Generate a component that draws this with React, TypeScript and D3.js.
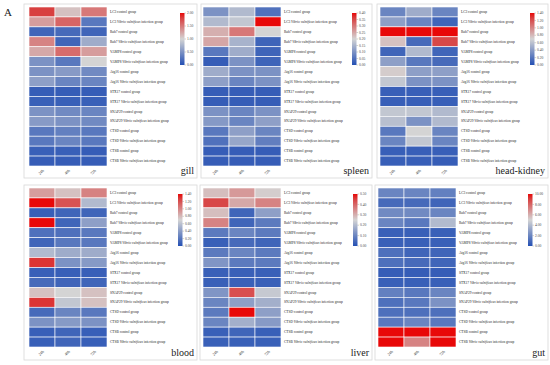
import React from "react";
import * as d3 from "d3";

// rows of every heatmap (gene + group)
const genes = ["LC3", "Rab7", "VAMP8", "Atg16", "STX17", "SNAP29", "CTSD", "CTSB"];
const groups = ["control", "infection"];
const times = ["24h", "48h", "72h"];

// relative expression, one row per gene/group, columns 24h 48h 72h
const gill = [
  [1.80, 1.10, 1.50], [1.30, 1.60, 0.30], [0.16, 0.20, 0.16], [1.44, 0.16, 0.70],
  [1.24, 1.56, 1.30], [0.50, 0.30, 1.00], [0.50, 0.56, 0.44], [0.60, 0.40, 0.40],
  [0.10, 0.10, 0.10], [0.12, 0.12, 0.12], [0.50, 0.44, 0.40], [0.56, 0.50, 0.44],
  [0.30, 0.36, 0.30], [0.30, 0.40, 0.30], [0.12, 0.12, 0.10], [0.10, 0.10, 0.10],
];
const spleen = [
  [0.10, 0.16, 0.05], [0.16, 0.18, 0.40], [0.24, 0.30, 0.20], [0.25, 0.15, 0.03],
  [0.06, 0.14, 0.03], [0.02, 0.10, 0.03], [0.14, 0.10, 0.10], [0.12, 0.08, 0.10],
  [0.02, 0.02, 0.02], [0.02, 0.02, 0.02], [0.10, 0.08, 0.10], [0.11, 0.08, 0.12],
  [0.06, 0.12, 0.08], [0.05, 0.13, 0.07], [0.02, 0.02, 0.02], [0.02, 0.02, 0.02],
];
const headKidney = [
  [0.28, 0.49, 0.28], [0.42, 0.28, 0.11], [1.40, 1.40, 1.40], [0.77, 0.14, 1.23],
  [0.11, 0.56, 0.11], [0.42, 0.21, 0.14], [0.73, 0.42, 0.42], [0.63, 0.35, 0.35],
  [0.08, 0.08, 0.08], [0.08, 0.08, 0.08], [0.63, 0.63, 0.56], [0.59, 0.35, 0.56],
  [0.21, 0.70, 0.28], [0.28, 0.63, 0.28], [0.08, 0.08, 0.08], [0.08, 0.08, 0.07],
];
const blood = [
  [0.91, 0.77, 1.01], [1.40, 1.19, 0.56], [0.08, 0.11, 0.11], [1.40, 0.11, 0.42],
  [0.17, 0.17, 0.21], [0.11, 0.21, 0.21], [0.56, 0.49, 0.49], [1.29, 0.35, 0.39],
  [0.08, 0.08, 0.08], [0.14, 0.11, 0.11], [0.77, 0.70, 0.77], [1.29, 0.63, 0.77],
  [0.14, 0.28, 0.21], [0.35, 0.39, 0.35], [0.08, 0.11, 0.08], [0.08, 0.11, 0.08],
];
const liver = [
  [0.28, 0.33, 0.26], [0.44, 0.31, 0.36], [0.28, 0.04, 0.15], [0.36, 0.04, 0.08],
  [0.08, 0.10, 0.08], [0.03, 0.05, 0.04], [0.08, 0.10, 0.08], [0.13, 0.08, 0.08],
  [0.03, 0.03, 0.03], [0.03, 0.03, 0.03], [0.13, 0.43, 0.23], [0.10, 0.15, 0.18],
  [0.08, 0.50, 0.15], [0.10, 0.18, 0.14], [0.03, 0.04, 0.03], [0.03, 0.03, 0.03],
];
const gut = [
  [2.0, 2.0, 1.8], [1.0, 1.0, 0.8], [2.2, 2.2, 2.0], [2.0, 1.5, 4.0],
  [0.6, 0.6, 0.6], [0.6, 0.6, 0.6], [1.2, 0.8, 0.8], [1.2, 1.0, 0.8],
  [0.5, 0.5, 0.5], [0.6, 0.6, 0.6], [1.8, 1.5, 2.0], [1.2, 1.5, 2.5],
  [1.2, 1.2, 1.2], [1.5, 2.0, 1.5], [10, 10, 10], [10, 7.2, 10],
];

// legend tick labels
const gillTicks = [0, 0.5, 1, 1.5, 2];
const spleenTicks = [0, 0.05, 0.1, 0.15, 0.2, 0.25, 0.3, 0.35, 0.4];
const hkTicks = [0, 0.2, 0.4, 0.6, 0.8, 1, 1.2, 1.4];
const bloodTicks = [0, 0.2, 0.4, 0.6, 0.8, 1, 1.2, 1.4];
const liverTicks = [0, 0.1, 0.2, 0.3, 0.4, 0.5];
const gutTicks = [0, 2, 4, 6, 8, 10];

const rowKeys = genes.flatMap(g => groups.map(gr => g + "-" + gr));

const panels = [
  { name: "gill", data: gill, ticks: gillTicks, box: [24, 4, 173, 174], hx: 29, lx: 180 },
  { name: "spleen", data: spleen, ticks: spleenTicks, box: [201, 4, 171, 174], hx: 203, lx: 352 },
  { name: "head-kidney", data: headKidney, ticks: hkTicks, box: [377, 4, 171, 174], hx: 380, lx: 530 },
  { name: "blood", data: blood, ticks: bloodTicks, box: [24, 185, 173, 175], hx: 29, lx: 178 },
  { name: "liver", data: liver, ticks: liverTicks, box: [200, 185, 172, 175], hx: 203, lx: 353 },
  { name: "gut", data: gut, ticks: gutTicks, box: [375, 185, 173, 175], hx: 378, lx: 528 },
];

const serif = "'Liberation Serif', 'DejaVu Serif', serif";

// normalized colour ramp: blue -> light gray -> red
const ramp = d3.scaleLinear<string>()
  .domain([0, 0.5, 0.9, 1])
  .range(["#2450b4", "#d4d4d4", "#d84040", "#e80808"])
  .interpolate(d3.interpolateRgb)
  .clamp(true);

function RowLabel({ gene, group, x, y }) {
  return (
    <text x={x} y={y + 1.2} fontSize={3.5} fontFamily={serif} fill="#222">
      {gene + " "}
      {group === "infection" ? (
        <>
          <tspan fontStyle="italic">Vibrio vulnificus</tspan>
          {" infection group"}
        </>
      ) : "control group"}
    </text>
  );
}

function Panel({ p, idx }) {
  const [bx, by, bw, bh] = p.box;
  const top = by + 3;
  const hmH = 159;
  const max = d3.max(p.ticks);
  const norm = d3.scaleLinear().domain([0, max]).range([0, 1]);

  const x = d3.scaleBand().domain(times).range([p.hx, p.hx + 78]);
  const y = d3.scaleBand().domain(rowKeys).range([top, top + hmH]);

  const legTop = by + 9;
  const legBot = by + 61;
  const ly = d3.scaleLinear().domain([0, max]).range([legBot, legTop]);
  const gid = "grad" + idx;

  return (
    <g>
      <rect x={bx} y={by} width={bw} height={bh} fill="#fff" stroke="#d8d8d8" strokeWidth={0.8} />
      {p.data.map((row, i) =>
        row.map((v, j) => (
          <rect
            key={i + "-" + j}
            x={x(times[j])}
            y={y(rowKeys[i])}
            width={x.bandwidth()}
            height={y.bandwidth()}
            fill={ramp(norm(v))}
            stroke="#fff"
            strokeWidth={0.6}
          />
        ))
      )}
      {rowKeys.map((k, i) => (
        <RowLabel
          key={k}
          gene={genes[Math.floor(i / 2)]}
          group={groups[i % 2]}
          x={p.hx + 81}
          y={y(k) + y.bandwidth() / 2}
        />
      ))}
      {times.map(t => {
        const cx = x(t) + x.bandwidth() / 2;
        const cy = top + hmH + 7;
        return (
          <text key={t} x={cx} y={cy} fontSize={4} fontFamily={serif} fill="#444"
            textAnchor="middle" transform={`rotate(-45,${cx},${cy})`}>
            {t}
          </text>
        );
      })}
      <defs>
        <linearGradient id={gid} x1="0" y1="1" x2="0" y2="0">
          {d3.range(0, 1.0001, 0.1).map(s => (
            <stop key={s} offset={s} stopColor={ramp(s)} />
          ))}
        </linearGradient>
      </defs>
      <rect x={p.lx} y={legTop} width={4.5} height={legBot - legTop} fill={`url(#${gid})`} />
      {p.ticks.map(t => (
        <g key={t}>
          <line x1={p.lx + 4.5} x2={p.lx + 6} y1={ly(t)} y2={ly(t)} stroke="#666" strokeWidth={0.3} />
          <text x={p.lx + 7} y={ly(t) + 1.2} fontSize={3.6} fontFamily={serif} fill="#444">
            {d3.format(".2f")(t)}
          </text>
        </g>
      ))}
      <text x={bx + bw - 3} y={by + bh - 4} fontSize={10} fontFamily={serif} fill="#222" textAnchor="end">
        {p.name}
      </text>
    </g>
  );
}

export default function App() {
  return (
    <svg width={550} height={365} style={{ position: "absolute", left: 0, top: 0, background: "#fff" }}>
      <rect width={550} height={365} fill="#fff" />
      <text x={4} y={16} fontSize={11} fontFamily={serif} fill="#222">A</text>
      {panels.map((p, i) => <Panel key={p.name} p={p} idx={i} />)}
    </svg>
  );
}
